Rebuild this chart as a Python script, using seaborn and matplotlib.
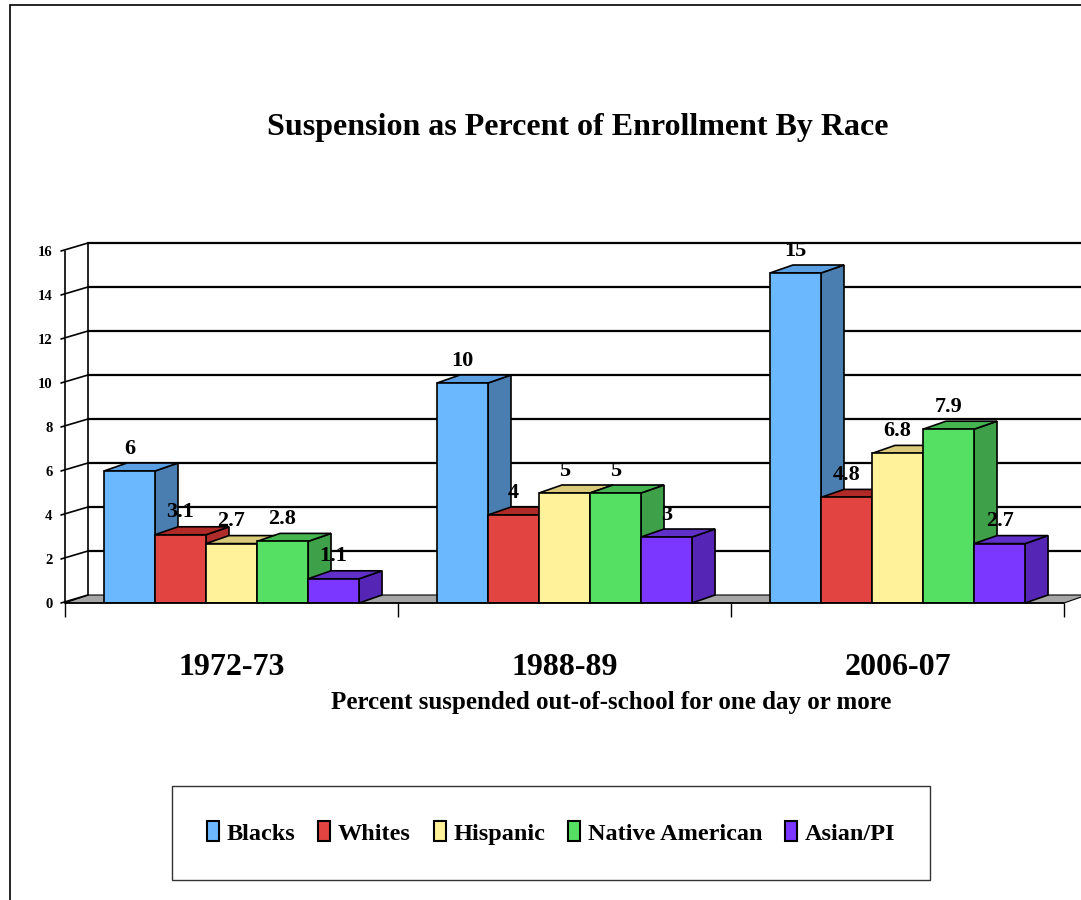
import pandas as pd
import seaborn as sns
import matplotlib.pyplot as plt
from matplotlib.patches import Polygon, Patch, Rectangle

# Datos
periods = ['1972-73', '1988-89', '2006-07']
races = ['Blacks', 'Whites', 'Hispanic', 'Native American', 'Asian/PI']
blacks = [6, 10, 15]
whites = [3.1, 4, 4.8]
hispanic = [2.7, 5, 6.8]
native = [2.8, 5, 7.9]
asian = [1.1, 3, 2.7]

front_colors = ['#6CB8FF', '#E24541', '#FFF29A', '#55E063', '#7B36FF']
side_colors = ['#4A7EB0', '#B02C2A', '#CDBD68', '#3EA049', '#5526B5']
top_colors = ['#5B9FE3', '#B02A28', '#D9CB7A', '#45B550', '#6030C8']

rows = []
for race, vals in zip(races, [blacks, whites, hispanic, native, asian]):
    for p, v in zip(periods, vals):
        rows.append({'Period': p, 'Race': race, 'Value': v})
df = pd.DataFrame(rows)

sns.set_style("white")
plt.rcParams['font.family'] = ['Liberation Serif', 'DejaVu Serif']
plt.rcParams['font.weight'] = 'bold'
for key in ['text.color', 'axes.labelcolor', 'xtick.color', 'ytick.color']:
    plt.rcParams[key] = 'black'

fig = plt.figure(figsize=(10.81, 9), dpi=100)
W, H = 1081, 900
ax = fig.add_axes([65 / W, 1 - 603 / H, (1064 - 65) / W, (603 - 251) / H])

sns.barplot(data=df, x='Period', y='Value', hue='Race', order=periods,
            hue_order=races, palette=front_colors, width=0.766,
            edgecolor='black', linewidth=1.2, saturation=1, legend=False,
            errorbar=None, ax=ax)
bars = list(ax.patches)

ax.set_xlim(-0.5, 2.5)
ax.set_ylim(0, 16)
ax.patch.set_visible(False)
for s in ax.spines.values():
    s.set_visible(False)

# profundidad del efecto 3D (en pixeles) -> unidades de datos
inv = ax.transData.inverted()
p0 = inv.transform(ax.transData.transform((0, 0)))
p1 = inv.transform(ax.transData.transform((0, 0)) + [23, 8])
dx, dy = p1[0] - p0[0], p1[1] - p0[1]
tick_out = inv.transform(ax.transData.transform((0, 0)) + [4, 0])[0] - p0[0]
xmin, xmax = -0.5, 2.5

# piso gris
ax.add_patch(Polygon([(xmin, 0), (xmax, 0), (xmax + dx, dy), (xmin + dx, dy)],
                     closed=True, facecolor='#A6A6A6', edgecolor='black',
                     linewidth=0.8, zorder=1, clip_on=False))

# pared trasera y lineas de grilla
yticks = list(range(0, 17, 2))
for y in yticks:
    if y > 0:
        ax.plot([xmin + dx, xmax + dx + 0.2], [y + dy, y + dy], color='black',
                linewidth=1.6, zorder=1.5, clip_on=False)
    ax.plot([xmin - tick_out, xmin + dx], [y, y + dy], color='black',
            linewidth=1.2, zorder=1.5, clip_on=False)
ax.plot([xmin, xmin], [0, 16], color='black', linewidth=1.2, clip_on=False)
ax.plot([xmin + dx, xmin + dx], [dy, 16 + dy], color='black', linewidth=1.2,
        zorder=1.5, clip_on=False)
ax.plot([xmin, xmax], [0, 0], color='black', linewidth=1.2, zorder=3.5,
        clip_on=False)

# caras laterales y superiores de las barras
bars_sorted = sorted(bars, key=lambda b: b.get_x())
for i, b in enumerate(bars_sorted):
    k = front_colors.index(
        '#%02X%02X%02X' % tuple(int(round(c * 255)) for c in b.get_facecolor()[:3]))
    x0, w, h = b.get_x(), b.get_width(), b.get_height()
    side = Polygon([(x0 + w, 0), (x0 + w + dx, dy), (x0 + w + dx, h + dy), (x0 + w, h)],
                   closed=True, facecolor=side_colors[k], edgecolor='black',
                   linewidth=1.2, zorder=2 + i * 0.01, clip_on=False)
    top = Polygon([(x0, h), (x0 + dx, h + dy), (x0 + w + dx, h + dy), (x0 + w, h)],
                  closed=True, facecolor=top_colors[k], edgecolor='black',
                  linewidth=1.2, zorder=2 + i * 0.01 + 0.005, clip_on=False)
    ax.add_patch(side)
    ax.add_patch(top)
    b.set_zorder(3)
    ax.annotate(f'{h:g}', (x0 + w / 2, h), xytext=(0, 9), textcoords='offset points',
                ha='center', va='bottom', fontsize=16, fontweight='bold',
                color='black', zorder=5, annotation_clip=False)

# ejes
ax.set_yticks(yticks)
ax.set_yticklabels([str(y) for y in yticks], fontsize=10.5, fontweight='bold')
ax.tick_params(axis='y', length=0, pad=9)
ax.set_xticks(range(len(periods)))
ax.set_xticklabels(periods, fontsize=23, fontweight='bold')
ax.set_xticks([-0.5, 0.5, 1.5, 2.5], minor=True)
ax.tick_params(axis='x', which='major', length=0, pad=36)
ax.tick_params(axis='x', which='minor', length=10, width=1, color='black',
               direction='out', bottom=True)
ax.set_xlabel('Percent suspended out-of-school for one day or more',
              fontsize=18, fontweight='bold')
ax.xaxis.set_label_coords((611 - 65) / 999, (603 - 691) / 352)
ax.set_ylabel('')

fig.text(578 / W, 1 - 127 / H, 'Suspension as Percent of Enrollment By Race',
         ha='center', va='center', fontsize=23, fontweight='bold')

# leyenda
handles = [Patch(facecolor=c, edgecolor='black', linewidth=1.5) for c in front_colors]
leg = fig.legend(handles, races, loc='center', bbox_to_anchor=(551 / W, 1 - 833 / H),
                 ncol=5, frameon=True, fancybox=False, edgecolor='black',
                 fontsize=17.5, handlelength=0.5, handleheight=0.9, handletextpad=0.3,
                 columnspacing=0.95, borderpad=1.45)
leg.get_frame().set_linewidth(1.0)
for t in leg.get_texts():
    t.set_fontweight('bold')

# marco de la figura
fig.patches.append(Rectangle((10 / W, -0.1), 1.2, 1.1 - 5 / H, fill=False,
                             edgecolor='black', linewidth=1.2,
                             transform=fig.transFigure, figure=fig))

plt.savefig('out.png', dpi=100)
plt.close()
